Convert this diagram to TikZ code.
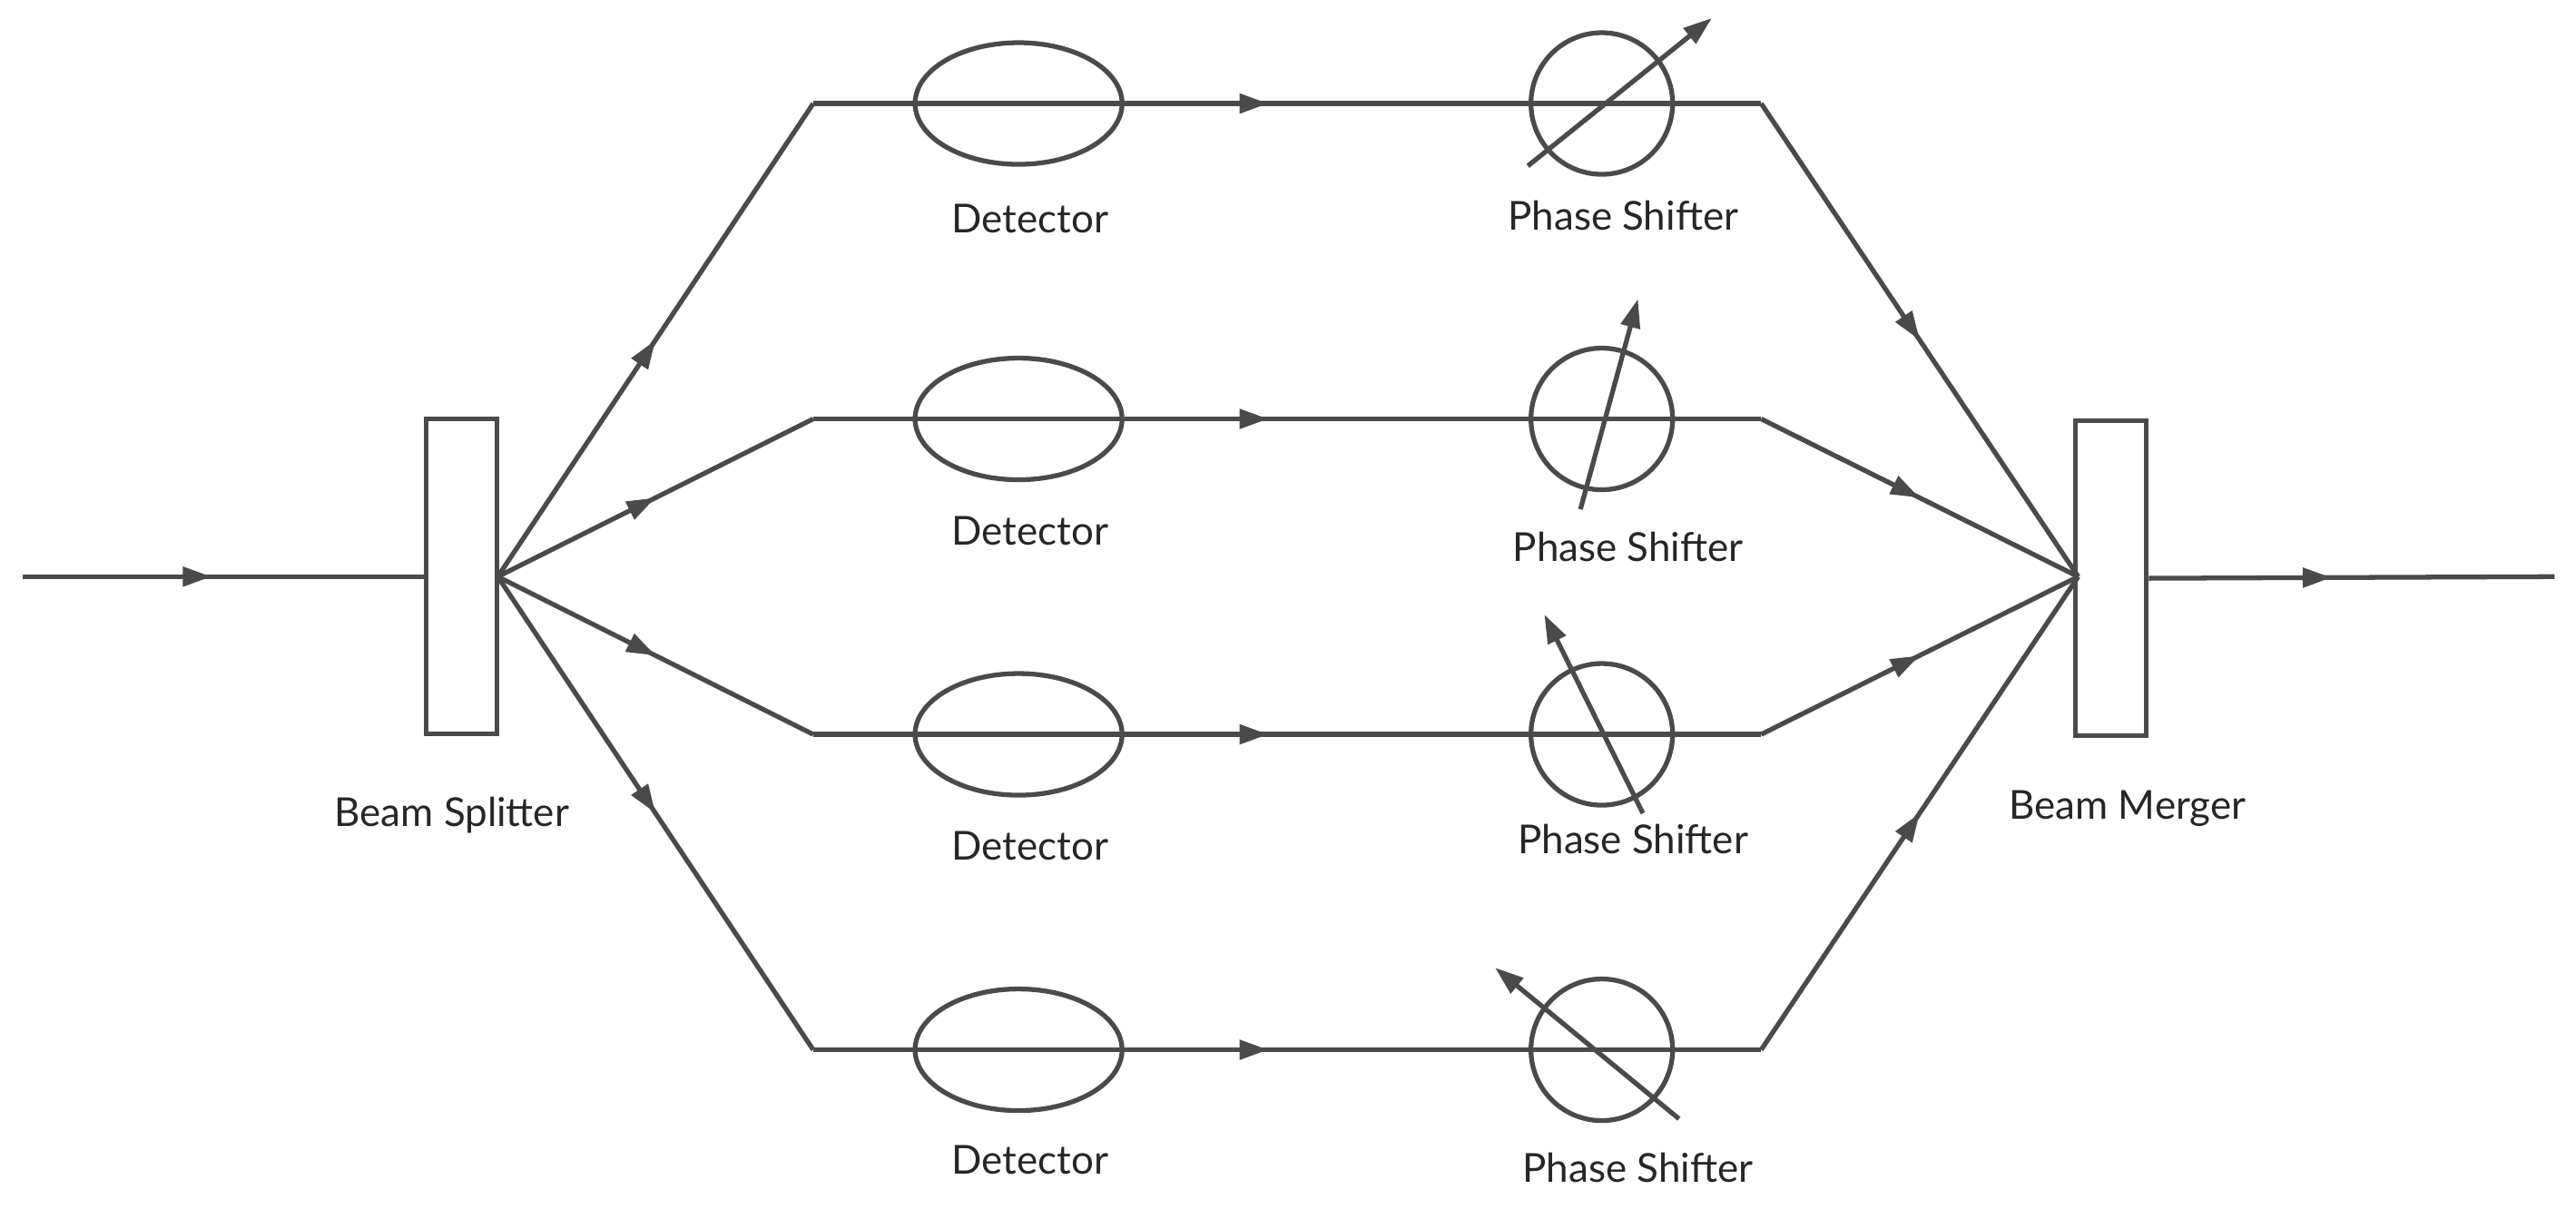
\documentclass[tikz,border=0pt]{standalone}
\usepackage{fontspec}
\setmainfont{Lato}
\usetikzlibrary{arrows.meta,decorations.markings,calc,shapes.geometric}
\definecolor{beamgray}{HTML}{4A4A4A}
\tikzset{
  beam/.style={line width=1.5pt,draw=beamgray,postaction={decorate},
    decoration={markings,mark=at position #1 with {\arrow{Triangle[length=9pt,width=6pt]}}}},
  beam/.default=0.5,
  plain/.style={line width=1.5pt,draw=beamgray},
  block/.style={draw=beamgray,line width=1.5pt,rectangle,minimum width=0.78cm,minimum height=3.47cm,inner sep=0pt},
  detector/.style={draw=beamgray,line width=1.5pt,ellipse,minimum width=2.28cm,minimum height=1.34cm,inner sep=0pt},
  shifter/.style={draw=beamgray,line width=1.5pt,circle,minimum size=1.56cm,inner sep=0pt},
  lbl/.style={font=\fontsize{12.5}{14}\selectfont,text=black!85}
}
\begin{document}
\begin{tikzpicture}[x=0.0181cm,y=-0.0181cm]
\useasboundingbox (0,0) rectangle (1568,741.5);

% part splitter and merger
\node[block] (split) at (281,351) {};
\node[block] (merge) at (1285,352) {};
\node[lbl] (splitlbl) at (275,496) {Beam Splitter};
\node[lbl] (mergelbl) at (1295,492) {Beam Merger};
\coordinate (in) at (14,351);
\coordinate (sp) at (303,351);
\coordinate (mp) at (1265,351);
\coordinate (out) at (1555,351);
\draw[beam=0.47] (in) -- (split.west);
\draw[beam=0.45] (merge.east) -- (out);

% part branches
\foreach \i/\y/\dy/\py in {1/63/133/131,2/255/323/333,3/447/515/511,4/639/706/711}{
  \coordinate (a\i) at (495,\y);
  \coordinate (b\i) at (1072,\y);
  \node[detector] (det\i) at (620,\y) {};
  \node[shifter] (ps\i) at (975,\y) {};
  \node[lbl] (detlbl\i) at (627,\dy) {Detector};
  \node[lbl] (pslbl\i) at (985+\i*3,\py) {Phase Shifter};
  \draw[beam] (sp) -- (a\i);
  \draw[beam=0.48] (a\i) -- (b\i);
  \draw[beam] (b\i) -- (mp);
}

% part phase arrows
\draw[plain,-{Triangle[length=9pt,width=6pt]}] ($(ps1)+(-45,38)$) -- ($(ps1)+(67,-52)$);
\draw[plain,-{Triangle[length=9pt,width=6pt]}] ($(ps2)+(-13,55)$) -- ($(ps2)+(22,-73)$);
\draw[plain,-{Triangle[length=9pt,width=6pt]}] ($(ps3)+(25,48)$) -- ($(ps3)+(-35,-73)$);
\draw[plain,-{Triangle[length=9pt,width=6pt]}] ($(ps4)+(47,42)$) -- ($(ps4)+(-65,-50)$);
\end{tikzpicture}
\end{document}
